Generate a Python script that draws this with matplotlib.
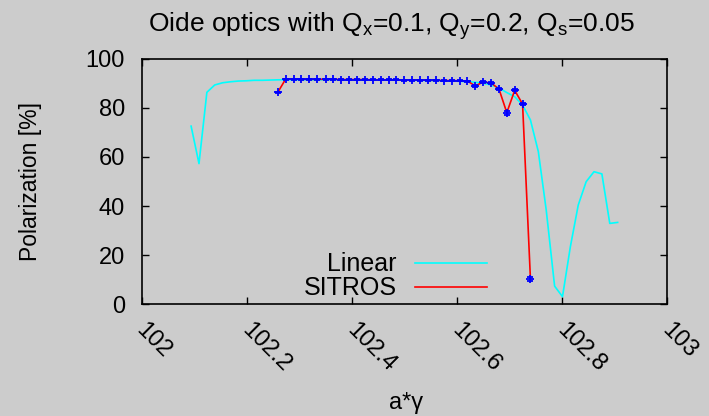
import matplotlib
matplotlib.use("Agg")
import matplotlib.pyplot as plt
import matplotlib.transforms as mtransforms

plt.rcParams['font.family'] = ['Liberation Sans', 'DejaVu Sans']

# Linear (cyan) series
lin_x = [102.094, 102.109, 102.124, 102.139, 102.154, 102.169, 102.184, 102.199, 102.214, 102.229,
         102.244, 102.259, 102.274, 102.289, 102.304, 102.319, 102.334, 102.350, 102.365, 102.380,
         102.395, 102.410, 102.425, 102.440, 102.455, 102.470, 102.485, 102.500, 102.515, 102.530,
         102.545, 102.560, 102.575, 102.590, 102.605, 102.620, 102.635, 102.650, 102.665, 102.680,
         102.695, 102.710, 102.725, 102.740, 102.755, 102.770, 102.786, 102.801, 102.816, 102.831,
         102.846, 102.861, 102.876, 102.891, 102.906]
lin_y = [72.6, 57.3, 86.4, 89.4, 90.3, 90.7, 91.0, 91.1, 91.3, 91.3,
         91.4, 91.5, 91.5, 91.5, 91.5, 91.5, 91.5, 91.5, 91.5, 91.5,
         91.5, 91.5, 91.5, 91.5, 91.5, 91.4, 91.4, 91.4, 91.3, 91.3,
         91.2, 91.2, 91.1, 91.0, 90.9, 90.7, 90.5, 90.1, 89.4, 88.2,
         86.3, 84.6, 81.2, 75.1, 62.2, 38.4, 7.3, 3.0, 23.4, 40.4,
         49.9, 54.0, 53.1, 32.9, 33.3]

# SITROS (red line, blue points with error bars)
sit_x = [102.259, 102.274, 102.289, 102.304, 102.319, 102.334, 102.350, 102.365, 102.380, 102.395,
         102.410, 102.425, 102.440, 102.455, 102.470, 102.485, 102.500, 102.515, 102.530, 102.545,
         102.560, 102.575, 102.590, 102.605, 102.620, 102.635, 102.650, 102.665, 102.680, 102.695,
         102.710, 102.725, 102.740]
sit_y = [86.4, 91.8, 91.8, 91.7, 91.7, 91.7, 91.7, 91.7, 91.6, 91.6,
         91.6, 91.6, 91.5, 91.5, 91.5, 91.5, 91.4, 91.4, 91.4, 91.3,
         91.3, 91.2, 91.2, 91.1, 91.0, 89.0, 90.6, 90.2, 87.8, 78.1,
         87.2, 81.6, 10.1]
sit_err = [0.3, 0.2, 0.2, 0.2, 0.2, 0.2, 0.2, 0.2, 0.2, 0.2,
           0.2, 0.2, 0.2, 0.2, 0.2, 0.2, 0.2, 0.2, 0.2, 0.2,
           0.2, 0.2, 0.2, 0.2, 0.2, 0.3, 0.3, 0.3, 0.4, 0.8,
           0.4, 0.5, 0.8]

x_ticks = [102.0, 102.2, 102.4, 102.6, 102.8, 103.0]
x_tick_labels = ["102", "102.2", "102.4", "102.6", "102.8", "103"]
y_ticks = [0, 20, 40, 60, 80, 100]

bg = '#cccccc'
fig = plt.figure(figsize=(7.09, 4.16), dpi=100, facecolor=bg)
ax = fig.add_axes([0.1999, 0.2692, 0.7409, 0.5890])
ax.set_facecolor(bg)

ax.plot(lin_x, lin_y, color='#00ffff', lw=1.2, label='Linear', zorder=2)
ax.plot(sit_x, sit_y, color='#ff0000', lw=1.2, label='SITROS', zorder=3)
ax.errorbar(sit_x, sit_y, yerr=sit_err, fmt='+', color='#0000ff', ms=6, mew=1.3,
            elinewidth=1, capsize=2.5, capthick=1.2, zorder=4, label='_nolegend_')

ax.set_xlim(102, 103)
ax.set_ylim(0, 100)
ax.set_xticks(x_ticks)
ax.set_xticklabels(x_tick_labels)
ax.set_yticks(y_ticks)
ax.tick_params(direction='in', length=5, width=1, top=True, right=True,
               labelsize=17, colors='black')
ax.tick_params(axis='y', pad=12)
ax.tick_params(axis='x', pad=11)
shift = mtransforms.ScaledTranslation(6 / 100, 0, fig.dpi_scale_trans)
for lab in ax.get_xticklabels():
    lab.set_rotation(-45)
    lab.set_ha('left')
    lab.set_va('top')
    lab.set_rotation_mode('anchor')
    lab.set_transform(lab.get_transform() + shift)
for s in ax.spines.values():
    s.set_linewidth(1.2)
    s.set_color('black')

ax.set_ylabel('Polarization [%]', fontsize=16.5)
ax.yaxis.set_label_coords(-0.19, 0.5)
ax.set_xlabel('a*γ', fontsize=17)
ax.xaxis.set_label_coords(0.503, -0.36)

fig.text(0.552, 0.938,
         r'Oide optics with Q$_\mathregular{x}$=0.1, Q$_\mathregular{y}$=0.2, Q$_\mathregular{s}$=0.05',
         ha='center', va='center', fontsize=19)

leg = ax.legend(loc='lower right', bbox_to_anchor=(0.665, 0.0), markerfirst=False,
                frameon=False, fontsize=18, handlelength=2.9, handletextpad=0.72,
                labelspacing=0.0, borderpad=0.15, borderaxespad=0.0)

fig.savefig('out.png', dpi=100, facecolor=bg)
